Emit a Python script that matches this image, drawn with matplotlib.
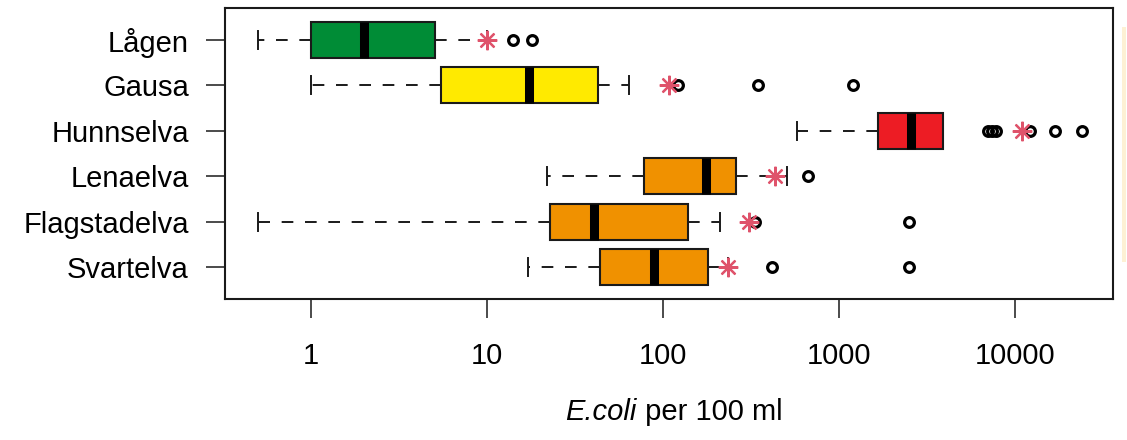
import matplotlib.pyplot as plt
from matplotlib.patches import Rectangle

plt.rcParams['font.family'] = ['Liberation Sans', 'DejaVu Sans']

# data (E.coli per 100 ml)
rivers = ['Lågen', 'Gausa', 'Hunnselva', 'Lenaelva', 'Flagstadelva', 'Svartelva']
box_colors = ['#008C36', '#FFEA00', '#ED1C24', '#F09100', '#F09100', '#F09100']
whislo = [0.5, 1.0, 577, 22, 0.5, 17.2]
q1 = [1.0, 5.5, 1676, 78, 22.9, 43.9]
med = [2.0, 17.3, 2575, 175, 40.5, 88.7]
q3 = [5.05, 42.6, 3890, 259, 139, 179]
whishi = [10, 64, 3890, 508, 210, 234]
means = [10, 108, 10900, 431, 308, 235]
outliers = [
    [14, 18],
    [122, 347, 1200],
    [7000, 7400, 7800, 12250, 16900, 23900],
    [664],
    [335, 2500],
    [418, 2500],
]
xticks = [1, 10, 100, 1000, 10000]
xtick_labels = ['1', '10', '100', '1000', '10000']

positions = list(range(len(rivers), 0, -1))

stats = []
for i in range(len(rivers)):
    stats.append(dict(label=rivers[i], whislo=whislo[i], q1=q1[i], med=med[i],
                      q3=q3[i], whishi=whishi[i], mean=means[i], fliers=outliers[i]))

fig = plt.figure(figsize=(11.27, 4.40), dpi=100)
ax = fig.add_axes([0.19965, 0.32045, 0.78837, 0.66136])

bp = ax.bxp(stats, positions=positions, widths=0.8, capwidths=0.4,
            orientation='horizontal', patch_artist=True, showmeans=True,
            boxprops=dict(linewidth=1.5, edgecolor='#1a1a1a'),
            whiskerprops=dict(linewidth=1.4, color='#1a1a1a', linestyle=(0, (6, 6))),
            capprops=dict(linewidth=1.4, color='#1a1a1a'),
            medianprops=dict(linewidth=6.5, color='black', solid_capstyle='butt'),
            flierprops=dict(marker='o', markersize=7, markerfacecolor='none',
                            markeredgecolor='black', markeredgewidth=2.3),
            meanprops=dict(marker=(8, 2, 0), markersize=14, markeredgecolor='#DF536B',
                           markerfacecolor='#DF536B', markeredgewidth=1.6, zorder=5))
for patch, c in zip(bp['boxes'], box_colors):
    patch.set_facecolor(c)
# Hunnselva has no upper whisker beyond the box
bp['caps'][5].set_visible(False)

ax.set_xscale('log')
ax.set_xlim(10 ** -0.489, 10 ** 4.56)
ax.set_ylim(0.3, 6.7)
ax.set_xticks(xticks)
ax.set_xticklabels(xtick_labels)
ax.minorticks_off()
ax.set_yticks(positions)
ax.set_yticklabels(rivers)
ax.tick_params(axis='both', labelsize=21, length=14, width=1.1, color='#1a1a1a')
ax.tick_params(axis='x', pad=17)
ax.tick_params(axis='y', pad=12)
for s in ax.spines.values():
    s.set_linewidth(1.5)
    s.set_color('#1a1a1a')

# axis title: italic species name + plain unit
fig.text(0.5652, 0.045, 'E.coli', ha='right', va='baseline', fontsize=21, style='italic')
fig.text(0.5652, 0.045, ' per 100 ml', ha='left', va='baseline', fontsize=21)

# faint strip at the right edge of the picture
fig.add_artist(Rectangle((1122 / 1127, 1 - 262 / 440), 4 / 1127, 235 / 440,
                         transform=fig.transFigure, facecolor='#FDF1D4', edgecolor='none'))

fig.savefig('out.png', dpi=100)
